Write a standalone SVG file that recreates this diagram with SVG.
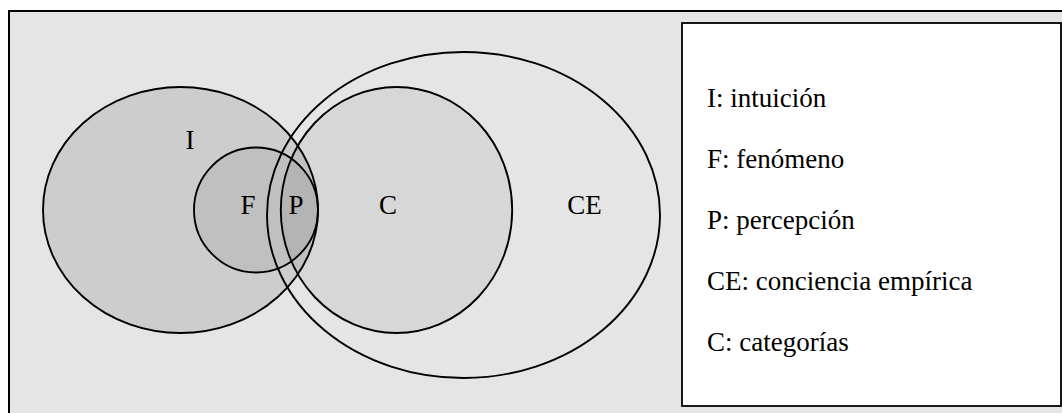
<svg xmlns="http://www.w3.org/2000/svg" width="1062" height="413" viewBox="0 0 1062 413">
<style>
  .ring { stroke: #000; stroke-width: 1.9; }
  .lbl { font-family: "Liberation Serif", "DejaVu Serif", serif; font-size: 27px; fill: #000; }
</style>
<rect id="background" x="9" y="11" width="1062" height="412" fill="#e5e5e5" stroke="#000" stroke-width="2"/>
<g id="node-I">
  <ellipse class="ring" cx="180.5" cy="210" rx="137.5" ry="123" fill="#000" fill-opacity="0.1"/>
  <text class="lbl" x="190" y="149" text-anchor="middle">I</text>
</g>
<g id="node-F">
  <ellipse class="ring" cx="256" cy="210" rx="62" ry="62.5" fill="#000" fill-opacity="0.058"/>
  <text class="lbl" x="248" y="214" text-anchor="middle">F</text>
</g>
<g id="node-C">
  <ellipse class="ring" cx="396.5" cy="210" rx="115.7" ry="123" fill="#000" fill-opacity="0.057"/>
  <text class="lbl" x="388" y="214" text-anchor="middle">C</text>
</g>
<g id="node-CE">
  <ellipse class="ring" cx="463.5" cy="215" rx="196.5" ry="163" fill="none"/>
  <text class="lbl" x="584.5" y="214" text-anchor="middle">CE</text>
</g>
<g id="node-P">
  <text class="lbl" x="296" y="214" text-anchor="middle">P</text>
</g>
<g id="connectors"></g>
<g id="legend">
  <rect x="682" y="23" width="379" height="383" fill="#fff" stroke="#000" stroke-width="1.8"/>
  <text class="lbl" x="707" y="107">I: intuición</text>
  <text class="lbl" x="707" y="168">F: fenómeno</text>
  <text class="lbl" x="707" y="229">P: percepción</text>
  <text class="lbl" x="707" y="290">CE: conciencia empírica</text>
  <text class="lbl" x="707" y="351">C: categorías</text>
</g>
</svg>
